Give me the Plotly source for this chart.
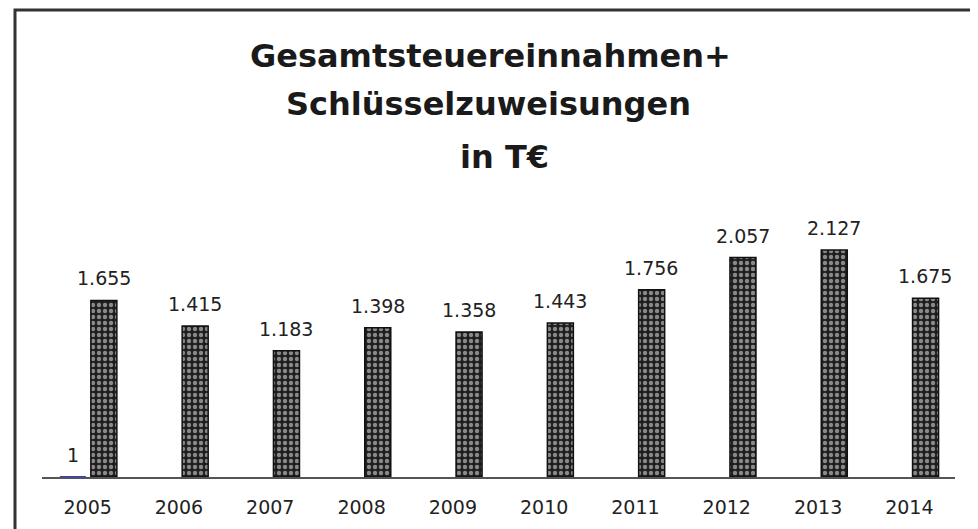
import plotly.graph_objects as go

years = ["2005", "2006", "2007", "2008", "2009", "2010", "2011", "2012", "2013", "2014"]
einnahmen = [1655, 1415, 1183, 1398, 1358, 1443, 1756, 2057, 2127, 1675]
zweite_reihe = [1, None, None, None, None, None, None, None, None, None]
title_lines = ["Gesamtsteuereinnahmen+", "Schlüsselzuweisungen", "in T€"]

# page body has an 8px margin: work in screen pixels and convert
OFF = 8
W, H = 978 - OFF, 529 - OFF

def px(sx):
    return (sx - OFF) / W

def py(sy):
    return (H - (sy - OFF)) / H

def fmt(v):
    return f"{v:,}".replace(",", ".")

FONT = "DejaVu Sans"

fig = go.Figure()

fig.add_trace(go.Bar(
    x=years, y=zweite_reihe, width=0.285, offset=-0.305,
    marker=dict(color="#2b3fd0", line=dict(color="#2b3fd0", width=0)),
    hoverinfo="skip", showlegend=False,
))
fig.add_trace(go.Bar(
    x=years, y=einnahmen, width=0.285, offset=0.035,
    marker=dict(
        color="#1f1f1f",
        line=dict(color="#111", width=1.5),
        pattern=dict(shape=".", fgcolor="#f4f4f4", size=6, solidity=0.42,
                     fillmode="overlay"),
    ),
    showlegend=False,
))

annotations = []
for i, v in enumerate(einnahmen):
    annotations.append(dict(x=i, y=v, xref="x", yref="y", text=fmt(v),
                            showarrow=False, xshift=16, yshift=9,
                            yanchor="bottom", font=dict(size=19, color="#222", family=FONT)))
for i, v in enumerate(zweite_reihe):
    if v is not None:
        annotations.append(dict(x=i, y=v, xref="x", yref="y", text=fmt(v),
                                showarrow=False, xshift=-15, yshift=9,
                                yanchor="bottom", font=dict(size=19, color="#222", family=FONT)))

title_pos = [(490, 56), (488, 104), (505, 157)]
for line, (tx, ty) in zip(title_lines, title_pos):
    annotations.append(dict(x=px(tx), y=py(ty), xref="paper", yref="paper",
                            text=f"<b>{line}</b>", showarrow=False,
                            xanchor="center", yanchor="middle",
                            font=dict(size=32, color="#1a1a1a", family=FONT)))

fig.update_layout(
    width=W, height=H,
    margin=dict(l=0, r=0, t=0, b=0),
    paper_bgcolor="white", plot_bgcolor="white",
    font=dict(family=FONT, color="#222"),
    barmode="overlay",
    annotations=annotations,
    xaxis=dict(domain=[px(42), px(955)], range=[-0.5, 9.5], type="category",
               showline=True, linecolor="#555", linewidth=1.5,
               showgrid=False, ticks="", tickfont=dict(size=19, color="#222", family=FONT),
               ticklabelstandoff=12),
    yaxis=dict(domain=[py(477), py(200)], range=[0, 2596], visible=False,
               showgrid=False, zeroline=False),
    shapes=[dict(type="rect", xref="paper", yref="paper",
                 x0=px(15), x1=1.05, y0=-0.05, y1=py(10),
                 line=dict(color="#333", width=3), layer="below")],
)

fig.write_html("out.html")
